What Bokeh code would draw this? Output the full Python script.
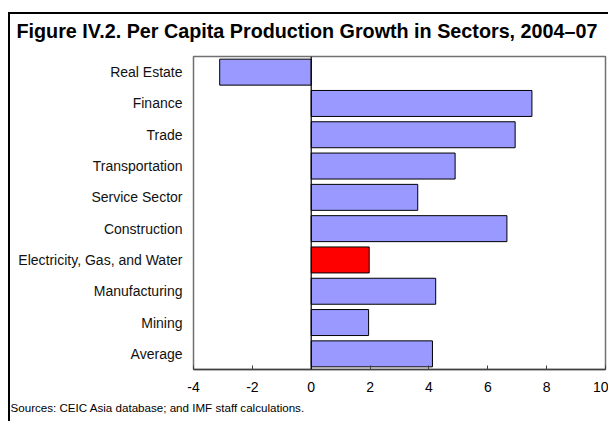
from bokeh.plotting import figure
from bokeh.layouts import column
from bokeh.models import FactorRange, Range1d, Span, Title, FixedTicker, ColumnDataSource
from bokeh.embed import file_html
from bokeh.resources import INLINE

sectors = ["Real Estate", "Finance", "Trade", "Transportation", "Service Sector",
           "Construction", "Electricity, Gas, and Water", "Manufacturing", "Mining", "Average"]
growth = [-3.11, 7.5, 6.93, 4.89, 3.62, 6.65, 1.97, 4.23, 1.95, 4.12]
bar_colors = ["#9999FF", "#9999FF", "#9999FF", "#9999FF", "#9999FF",
              "#9999FF", "#FF0000", "#9999FF", "#9999FF", "#9999FF"]
x_ticks = [-4, -2, 0, 2, 4, 6, 8, 10]
x_tick_labels = {-4: "-4", -2: "-2", 0: "0", 2: "2", 4: "4", 6: "6", 8: "8", 10: "10"}
title_text = "Figure IV.2. Per Capita Production Growth in Sectors, 2004\u201307"
source_text = "Sources: CEIC Asia database; and IMF staff calculations."

FONT = "Liberation Sans"

src = ColumnDataSource(dict(sector=sectors, growth=growth, color=bar_colors))

box_styles = {
    "background-color": "white",
    "background-image": ("linear-gradient(#fff, #fff), "
                         "linear-gradient(to right, #000 2px, transparent 2px), "
                         "linear-gradient(to bottom, #000 2px, transparent 2px)"),
    "background-position": "603px 14px, 8px 12px, 8px 12px",
    "background-size": "10px 420px, 600px 409px, 600px 409px",
    "background-repeat": "no-repeat, no-repeat, no-repeat",
}

p = figure(width=608, height=421, output_backend="svg", toolbar_location=None,
           y_range=FactorRange(factors=sectors[::-1]), x_range=Range1d(-4, 10),
           min_border_left=193, min_border_right=3, min_border_top=56, min_border_bottom=52)

p.hbar(y="sector", left=0, right="growth", height=0.83, fill_color="color",
       line_color="black", line_width=1, source=src)

p.add_layout(Span(location=0, dimension="height", line_color="black", line_width=1.2))

p.xgrid.visible = False
p.ygrid.visible = False
p.background_fill_color = "white"
p.border_fill_color = None
p.border_fill_alpha = 0
p.outline_line_color = "#707070"
p.outline_line_width = 1.5

xa = p.xaxis[0]
xa.ticker = FixedTicker(ticks=x_ticks)
xa.major_label_overrides = x_tick_labels
xa.major_tick_in = 4
xa.major_tick_out = 0
xa.minor_tick_line_color = None
xa.axis_line_color = "#404040"
xa.axis_line_width = 1.5
xa.major_tick_line_color = "#404040"
xa.major_label_text_font = FONT
xa.major_label_text_font_size = "14px"
xa.major_label_text_color = "black"
xa.major_label_standoff = 12

ya = p.yaxis[0]
ya.axis_line_color = None
ya.major_tick_line_color = None
ya.major_tick_out = 0
ya.major_tick_in = 0
ya.major_label_text_font = FONT
ya.major_label_text_font_size = "14px"
ya.major_label_text_color = "#111111"
ya.major_label_standoff = 11

p.title.text = title_text
p.title.align = "left"
p.title.offset = -177
p.title.standoff = 29
p.title.text_font = FONT
p.title.text_font_size = "19.75px"
p.title.text_font_style = "bold"
p.title.text_color = "black"

p.add_layout(Title(text=source_text, align="left", offset=-183, standoff=8,
                   text_font=FONT, text_font_size="11.6px", text_font_style="normal",
                   text_color="black"), "below")

layout = column(p, width=608, height=421, styles=box_styles)

open("out.html", "w").write(file_html(layout, INLINE))
